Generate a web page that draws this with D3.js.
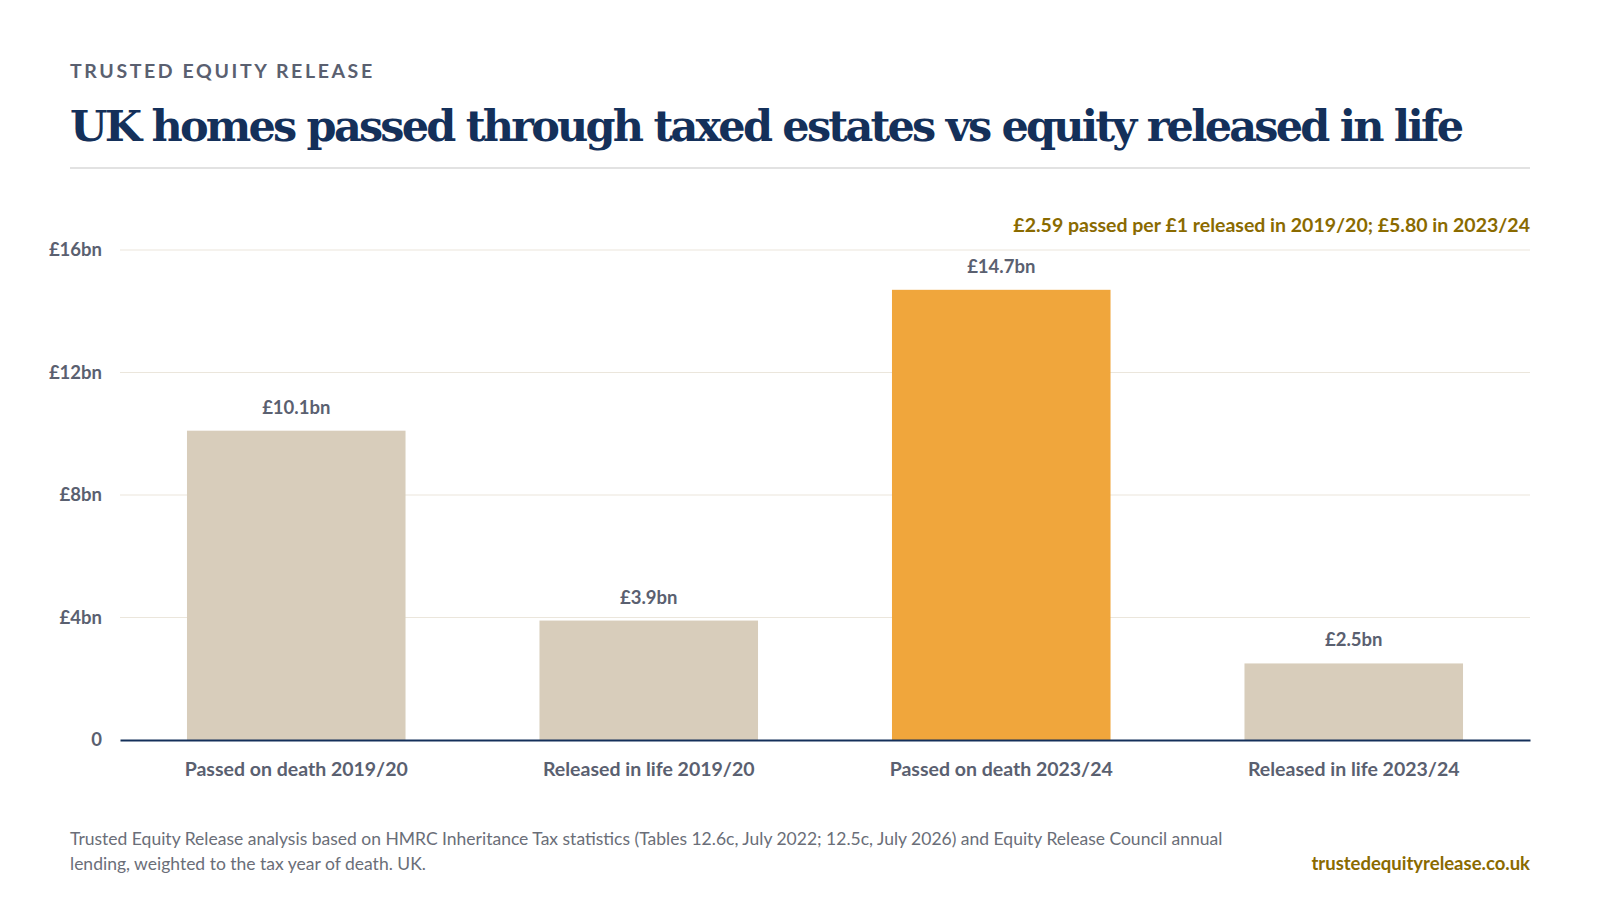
<!DOCTYPE html>
<html><head><meta charset="utf-8">
<script src="https://cdn.jsdelivr.net/npm/d3@7"></script>
<style>body{margin:0;background:#fff}</style>
</head><body>
<svg width="1600" height="900"></svg>
<script>
const categories = ["Passed on death 2019/20", "Released in life 2019/20", "Passed on death 2023/24", "Released in life 2023/24"];
const values = [10.1, 3.9, 14.7, 2.5];
const valueLabels = ["£10.1bn", "£3.9bn", "£14.7bn", "£2.5bn"];
const yTicks = [0, 4, 8, 12, 16];

const font = "Lato, 'Noto Sans', sans-serif";
const svg = d3.select("svg");
const margin = {top: 250, right: 70, bottom: 160, left: 120};
const width = 1600 - margin.left - margin.right;
const height = 900 - margin.top - margin.bottom;

svg.append("text").attr("x", 70).attr("y", 78).text("TRUSTED EQUITY RELEASE")
  .attr("font-family", font).attr("font-size", 19.5).attr("font-weight", 700)
  .attr("letter-spacing", 2.6).attr("fill", "#5a6070");
svg.append("text").attr("x", 70).attr("y", 141).text("UK homes passed through taxed estates vs equity released in life")
  .attr("font-family", "'DejaVu Serif', 'Liberation Serif', serif").attr("font-size", 43).attr("font-weight", 700)
  .attr("fill", "#14305a").attr("textLength", 1394);
svg.append("line").attr("x1", 70).attr("x2", 1530).attr("y1", 168).attr("y2", 168)
  .attr("stroke", "#d8d8d8").attr("stroke-width", 1.5);
svg.append("text").attr("x", 1530).attr("y", 232).attr("text-anchor", "end")
  .text("£2.59 passed per £1 released in 2019/20; £5.80 in 2023/24")
  .attr("font-family", font).attr("font-size", 19.5).attr("font-weight", 700).attr("fill", "#8a6a00");

const g = svg.append("g").attr("transform", `translate(${margin.left},${margin.top})`);
const x = d3.scaleBand().domain(categories).range([0, width]).paddingInner(0.38).paddingOuter(0.19);
const y = d3.scaleLinear().domain([0, 16]).range([height, 0]);

g.append("g").selectAll("line").data(yTicks.slice(1)).join("line")
  .attr("x1", 0).attr("x2", width).attr("y1", d => y(d)).attr("y2", d => y(d))
  .attr("stroke", "#ebe6dc").attr("stroke-width", 1.2);

const yAxis = g.append("g").call(d3.axisLeft(y).tickValues(yTicks).tickSize(0).tickPadding(18)
  .tickFormat(d => d === 0 ? "0" : "£" + d + "bn"));
yAxis.select(".domain").remove();
yAxis.selectAll("text").attr("font-family", font).attr("font-size", 18.5).attr("font-weight", 700).attr("fill", "#5a6070");

g.selectAll("rect.bar").data(values).join("rect").attr("class", "bar")
  .attr("x", (d, i) => x(categories[i])).attr("width", x.bandwidth())
  .attr("y", d => y(d)).attr("height", d => height - y(d))
  .attr("fill", (d, i) => i === 2 ? "#f0a63c" : "#d8cdbb");

g.selectAll("text.val").data(values).join("text").attr("class", "val")
  .attr("x", (d, i) => x(categories[i]) + x.bandwidth() / 2).attr("y", d => y(d) - 17)
  .attr("text-anchor", "middle").text((d, i) => valueLabels[i])
  .attr("font-family", font).attr("font-size", 18.5).attr("font-weight", 700).attr("fill", "#5a6070");

const xAxis = g.append("g").attr("transform", `translate(0,${height})`)
  .call(d3.axisBottom(x).tickSize(0).tickPadding(22));
xAxis.select(".domain").attr("stroke", "#14305a").attr("stroke-width", 2);
xAxis.selectAll("text").attr("font-family", font).attr("font-size", 19.5).attr("font-weight", 700).attr("fill", "#5a6070");

const foot = svg.append("text").attr("font-family", font).attr("font-size", 17.5).attr("fill", "#6a6e78");
foot.append("tspan").attr("x", 70).attr("y", 845).text("Trusted Equity Release analysis based on HMRC Inheritance Tax statistics (Tables 12.6c, July 2022; 12.5c, July 2026) and Equity Release Council annual");
foot.append("tspan").attr("x", 70).attr("y", 870).text("lending, weighted to the tax year of death. UK.");
svg.append("text").attr("x", 1530).attr("y", 870).attr("text-anchor", "end").text("trustedequityrelease.co.uk")
  .attr("font-family", font).attr("font-size", 18.5).attr("font-weight", 700).attr("fill", "#8a6a00");
</script>
</body></html>
